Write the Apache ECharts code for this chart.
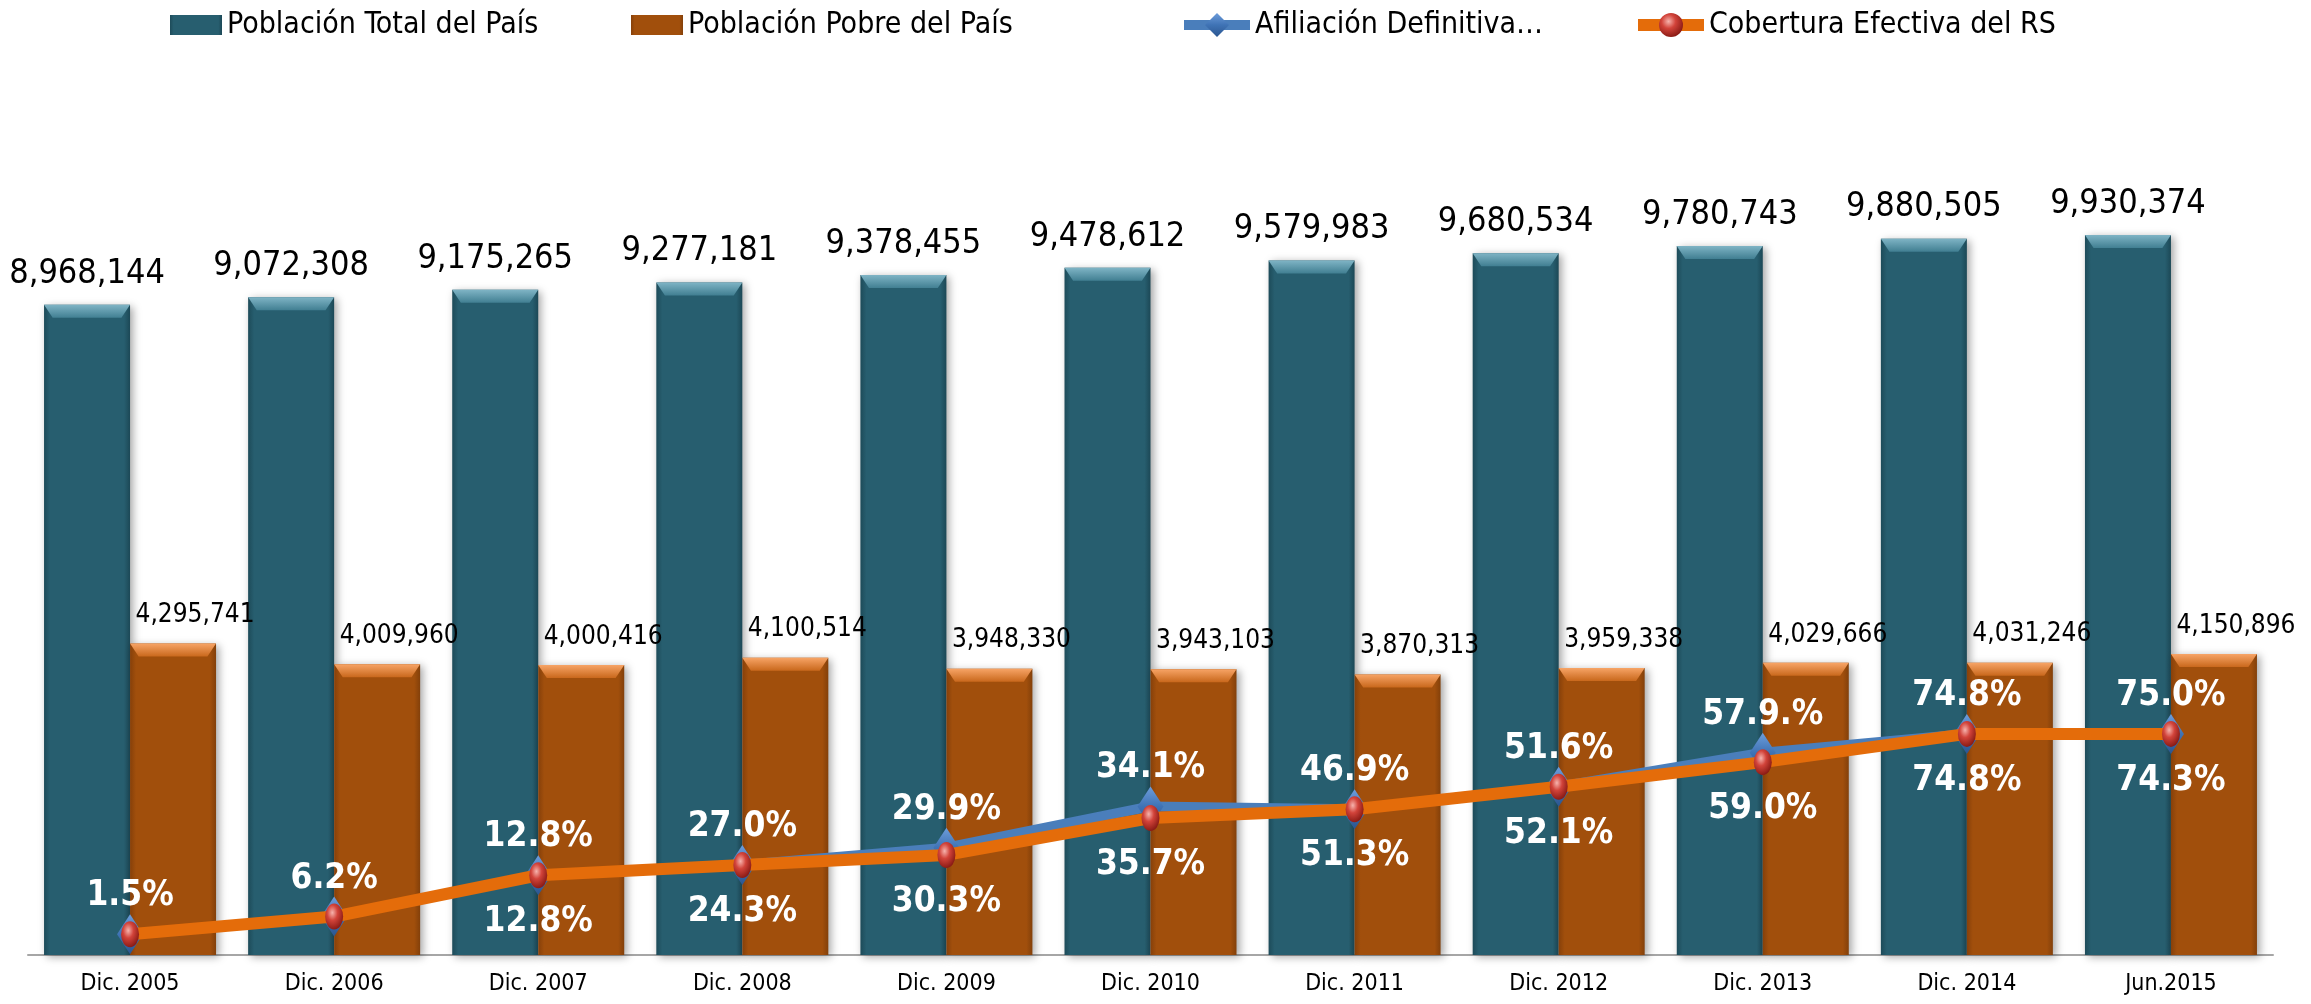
<!DOCTYPE html>
<html><head><meta charset="utf-8">
<script src="https://cdn.jsdelivr.net/npm/echarts@6/dist/echarts.min.js"></script>
<style>html,body{margin:0;padding:0;background:#fff}#c{width:2311px;height:1004px}</style>
</head><body><div id="c"></div>
<script>
const categories = ['Dic. 2005','Dic. 2006','Dic. 2007','Dic. 2008','Dic. 2009','Dic. 2010','Dic. 2011','Dic. 2012','Dic. 2013','Dic. 2014','Jun.2015'];
const poblacionTotal = [8968144, 9072308, 9175265, 9277181, 9378455, 9478612, 9579983, 9680534, 9780743, 9880505, 9930374];
const poblacionPobre = [4295741, 4009960, 4000416, 4100514, 3948330, 3943103, 3870313, 3959338, 4029666, 4031246, 4150896];
const afiliacion = [285000, 530000, 1100000, 1240000, 1480000, 2050000, 2010000, 2320000, 2790000, 3050000, 3050000];
const cobertura = [285000, 530000, 1100000, 1240000, 1380000, 1890000, 2010000, 2320000, 2660000, 3050000, 3050000];
const afiliacionLabels = ['1.5%','6.2%','12.8%','27.0%','29.9%','34.1%','46.9%','51.6%','57.9.%','74.8%','75.0%'];
const coberturaLabels = ['','','12.8%','24.3%','30.3%','35.7%','51.3%','52.1%','59.0%','74.8%','74.3%'];
const seriesNames = ['Población Total del País','Población Pobre del País','Afiliación Definitiva…','Cobertura Efectiva del RS'];

const F = "'Liberation Sans Narrow','DejaVu Sans Condensed',sans-serif";
const fmt = v => Number(v).toLocaleString('en-US');
const chart = echarts.init(document.getElementById('c'));

const lin = (stops, horiz) => ({type:'linear', x:0, y:0, x2: horiz?1:0, y2: horiz?0:1,
  colorStops: stops.map(s => ({offset:s[0], color:s[1]}))});

const tealFill = lin([[0,'#1d4b59'],[0.07,'#275e6f'],[0.93,'#275e6f'],[1,'#1c4856']], true);
const orangeFill = lin([[0,'#86400a'],[0.07,'#a14f0c'],[0.93,'#a14f0c'],[1,'#83400a']], true);
const legendText = {fontSize:30, fontFamily:F, color:'#000'};

const option = {
  backgroundColor:'#fff',
  animation:false,
  grid:{left:28, right:38, top:85, bottom:49},
  legend:[
    {data:[seriesNames[0]], left:170, top:10, padding:0, icon:'rect', itemWidth:52, itemHeight:20, textStyle:legendText},
    {data:[seriesNames[1]], left:631, top:10, padding:0, icon:'rect', itemWidth:52, itemHeight:20, textStyle:legendText},
    {data:[seriesNames[2]], left:1179, top:10, padding:0, itemWidth:66, itemHeight:30, lineStyle:{width:10}, textStyle:legendText},
    {data:[seriesNames[3]], left:1632, top:10, padding:0, itemWidth:66, itemHeight:30, lineStyle:{width:12}, textStyle:legendText}
  ],
  xAxis:{type:'category', data:categories,
    axisLine:{lineStyle:{color:'#a6a6a6', width:2}}, axisTick:{show:false},
    axisLabel:{fontSize:23, fontFamily:F, color:'#000', margin:18}},
  yAxis:{type:'value', min:0, max:12000000, show:false, splitLine:{show:false}},
  series:[
    {name:seriesNames[0], type:'bar', data:poblacionTotal, barWidth:86, barGap:'0%', z:2,
      itemStyle:{color:tealFill, shadowBlur:8, shadowColor:'rgba(0,0,0,0.35)', shadowOffsetX:3, shadowOffsetY:2},
      label:{show:true, position:'top', distance:14, fontSize:34, fontFamily:F, color:'#000', formatter:p=>fmt(p.value)}},
    {name:seriesNames[1], type:'bar', data:poblacionPobre, barWidth:86, barGap:'0%', z:2,
      itemStyle:{color:orangeFill, shadowBlur:8, shadowColor:'rgba(0,0,0,0.35)', shadowOffsetX:3, shadowOffsetY:2},
      label:{show:true, position:'top', distance:15, offset:[22,0], fontSize:26, fontFamily:F, color:'#000', formatter:p=>fmt(p.value)}},
    {name:'bevelTotal', type:'pictorialBar', data:poblacionTotal, barWidth:86, barGap:'0%', z:3, silent:true,
      symbol:'path://M0,0 L100,0 L90,10 L10,10 Z', symbolSize:['100%',13], symbolPosition:'end',
      itemStyle:{color:lin([[0,'#7fb4c5'],[1,'#417f92']])}},
    {name:'bevelPobre', type:'pictorialBar', data:poblacionPobre, barWidth:86, barGap:'0%', z:3, silent:true,
      symbol:'path://M0,0 L100,0 L90,10 L10,10 Z', symbolSize:['100%',13], symbolPosition:'end',
      itemStyle:{color:lin([[0,'#f7a466'],[1,'#c9681c']])}},
    {name:seriesNames[2], type:'line', data:afiliacion, z:5,
      symbol:'diamond', symbolSize:[26,40],
      lineStyle:{color:'#4a7ebb', width:10},
      itemStyle:{color:lin([[0,'#6d9ddb'],[0.5,'#3f73b5'],[1,'#2b5690']])},
      label:{show:true, position:'inside', offset:[0,-38], fontSize:35, fontWeight:'bold', fontFamily:F, color:'#fff',
        formatter:p=>afiliacionLabels[p.dataIndex]}},
    {name:seriesNames[3], type:'line', data:cobertura, z:6,
      symbol:'circle', symbolSize:[18,26],
      lineStyle:{color:'#e46c0a', width:12},
      itemStyle:{color:{type:'radial', x:0.4, y:0.35, r:0.65, colorStops:[{offset:0,color:'#f6b3ad'},{offset:0.45,color:'#d2433a'},{offset:1,color:'#8c1c16'}]}},
      label:{show:true, position:'inside', offset:[0,47], fontSize:35, fontWeight:'bold', fontFamily:F, color:'#fff',
        formatter:p=>coberturaLabels[p.dataIndex]}}
  ]
};
chart.setOption(option);
</script></body></html>
